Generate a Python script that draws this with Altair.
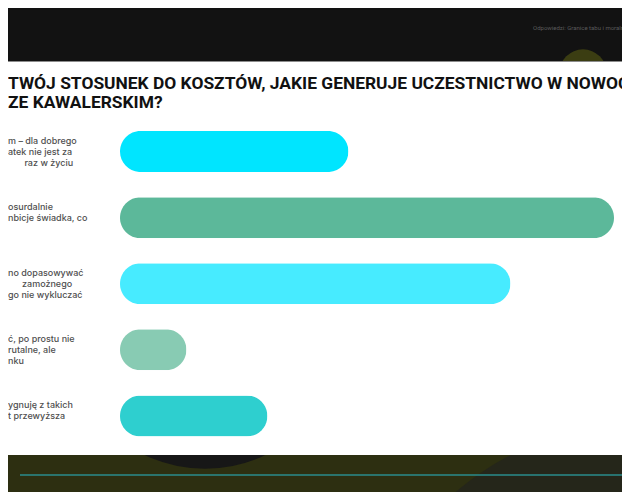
import altair as alt
import pandas as pd

BL = "\u2800"  # blank (non-collapsing) glyph used for the visible indents

# ---- data ----
categories = ["1", "2", "3", "4", "5"]
values = [17.2, 37.2, 29.4, 5.0, 11.1]
bar_colors = ["#00e5ff", "#5cb89a", "#47ebff", "#88cbb3", "#2ecfcf"]
label_lines = [
    ["m – dla dobrego", "atek nie jest za", BL * 2 + " raz w życiu"],
    ["osurdalnie", "nbicje świadka, co", " "],
    ["no dopasowywać", BL * 2 + "zamożnego", "go nie wykluczać"],
    ["ć, po prostu nie", "rutalne, ale", "nku"],
    ["ygnuję z takich", "t przewyższa", " "],
]
title_lines = [
    "TWÓJ STOSUNEK DO KOSZTÓW, JAKIE GENERUJE UCZESTNICTWO W NOWOCZESNYM",
    "ZE KAWALERSKIM?",
]
header_note = "Odpowiedzi: Granice tabu i moralności"

W, H = 614, 484

bars_df = pd.DataFrame({
    "cat": categories,
    "value": values,
    "label": ["\n".join(l) for l in label_lines],
})
one = pd.DataFrame({"k": [0]})

yscale = alt.Scale(domain=categories, range=[110.5, 441], paddingInner=0, paddingOuter=0)
xscale = alt.Scale(domain=[0, max(values)], range=[112, 606])

base1 = alt.Chart(one)

olive = base1.mark_rect(color="#2d2f11").encode(
    x=alt.value(0), x2=alt.value(W), y=alt.value(447), y2=alt.value(H))
dark_right = base1.mark_circle(color="#25261a", opacity=1).encode(
    x=alt.value(629), y=alt.value(695), size=alt.value(309700))
dark_circle = base1.mark_circle(color="#171717", opacity=1).encode(
    x=alt.value(197), y=alt.value(318), size=alt.value(81400))
yellow_circle = base1.mark_circle(color="#3b3d12", opacity=1).encode(
    x=alt.value(575), y=alt.value(65), size=alt.value(2240))
card = base1.mark_rect(color="#ffffff").encode(
    x=alt.value(0), x2=alt.value(W), y=alt.value(54), y2=alt.value(447))
card_edge = base1.mark_rule(color="#8c8c8c", strokeWidth=1).encode(
    x=alt.value(0), x2=alt.value(W), y=alt.value(53.5))
cyan_line = base1.mark_rule(color="#2a8c8c", strokeWidth=1.5).encode(
    x=alt.value(12), x2=alt.value(W), y=alt.value(467))
note = base1.mark_text(align="left", baseline="middle", font="Roboto",
                       fontSize=6, color="#5a5a5a", text=header_note).encode(
    x=alt.value(525), y=alt.value(20))
title1 = base1.mark_text(align="left", baseline="alphabetic", font="Roboto",
                         fontSize=17.4, fontWeight="bold", color="#111111",
                         text=title_lines[0]).encode(x=alt.value(0), y=alt.value(81))
title2 = base1.mark_text(align="left", baseline="alphabetic", font="Roboto",
                         fontSize=17.4, fontWeight="bold", color="#111111",
                         text=title_lines[1]).encode(x=alt.value(0), y=alt.value(100))

base = alt.Chart(bars_df)
bars = base.mark_bar(cornerRadius=20.5, size=41).encode(
    y=alt.Y("cat:N", scale=yscale, axis=None),
    x=alt.X("value:Q", scale=xscale, axis=None),
    color=alt.Color("cat:N", scale=alt.Scale(domain=categories, range=bar_colors), legend=None),
)
labels = base.mark_text(align="left", baseline="middle", lineBreak="\n", lineHeight=11,
                        dy=-11, font="Inter", fontSize=9, fontWeight=500,
                        color="#4f4f4f").encode(
    y=alt.Y("cat:N", scale=yscale, axis=None),
    x=alt.value(0),
    text="label:N",
)

chart = alt.layer(
    olive, dark_right, dark_circle, yellow_circle, card, card_edge, cyan_line,
    note, title1, title2, bars, labels
).properties(
    width=W, height=H, padding=0, autosize=alt.AutoSizeParams(type="none")
).configure(background="#121212").configure_view(stroke=None)

chart.save("out.html", embed_options={"renderer": "svg", "actions": False})
